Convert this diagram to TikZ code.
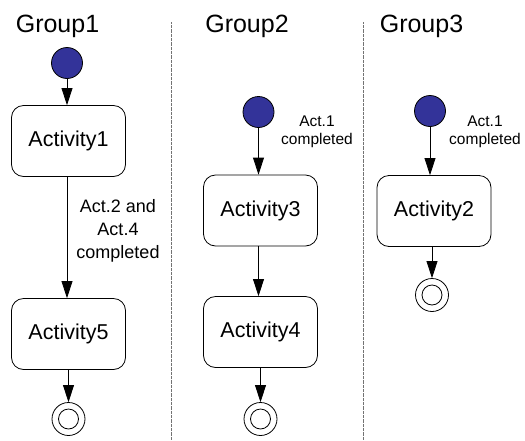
\documentclass[tikz,border=0pt]{standalone}
\usepackage{fontspec}
\setmainfont{Liberation Sans}
\usetikzlibrary{arrows.meta}
\definecolor{initblue}{RGB}{51,51,153}
\definecolor{laneline}{RGB}{115,115,115}
\begin{document}
\begin{tikzpicture}[x=1pt,y=-1pt,
  title/.style={anchor=base, font=\fontsize{25}{30}\selectfont},
  activity/.style={draw, line width=0.8pt, rounded corners=12pt, minimum width=114pt,
    minimum height=71pt, inner sep=0pt, font=\fontsize{21.5}{26}\selectfont},
  initstate/.style={circle, draw, line width=0.8pt, fill=initblue, minimum size=31pt, inner sep=0pt},
  finalstate/.style={circle, draw, line width=0.8pt, minimum size=33pt, inner sep=0pt,
    path picture={\draw[line width=0.8pt] (path picture bounding box.center) circle (10pt);}},
  flow/.style={draw, line width=0.8pt, -{Triangle[length=17pt,width=11pt]}},
  guardbig/.style={align=center, inner sep=0pt, font=\fontsize{18}{23}\selectfont},
  guard/.style={align=center, inner sep=0pt, font=\fontsize{15.5}{17.5}\selectfont},
  lane/.style={draw=laneline, line width=1pt, dash pattern=on 0.8pt off 0.5pt}]
\useasboundingbox (0,0) rectangle (525,440);

% swimlane separators
\coordinate (l1top) at (171,22);
\coordinate (l1bot) at (171,440);
\coordinate (l2top) at (363,22);
\coordinate (l2bot) at (363,440);
\draw[lane] (l1top) -- (l1bot);
\draw[lane] (l2top) -- (l2bot);

% lane titles
\node[title] (t1) at (57.5,32) {Group1};
\node[title] (t2) at (247,32) {Group2};
\node[title] (t3) at (421.5,32) {Group3};

% Group1
\node[initstate] (s1) at (67,63) {};
\node[activity] (a1) at (68.5,141) {Activity1};
\node[activity] (a5) at (68.5,334) {Activity5};
\node[finalstate] (f1) at (68.5,419) {};
\draw[flow] (s1) -- (s1 |- a1.north);
\draw[flow] (a1.south -| s1) -- (s1 |- a5.north);
\draw[flow] (a5.south -| f1) -- (f1);
\node[guardbig] (g1) at (118,231) {Act.2 and\\Act.4\\completed};

% Group2
\node[initstate] (s2) at (258.5,112) {};
\node[activity] (a3) at (260.5,210.5) {Activity3};
\node[activity] (a4) at (260.5,332) {Activity4};
\node[finalstate] (f2) at (260.5,419) {};
\draw[flow] (s2) -- (s2 |- a3.north);
\draw[flow] (a3.south -| s2) -- (s2 |- a4.north);
\draw[flow] (a4.south -| f2) -- (f2);
\node[guard] (g2) at (317,132) {Act.1\\completed};

% Group3
\node[initstate] (s3) at (430,111) {};
\node[activity] (a2) at (434,211) {Activity2};
\node[finalstate] (f3) at (432,295) {};
\draw[flow] (s3) -- (s3 |- a2.north);
\draw[flow] (a2.south -| f3) -- (f3);
\node[guard] (g3) at (485,132) {Act.1\\completed};
\end{tikzpicture}
\end{document}
